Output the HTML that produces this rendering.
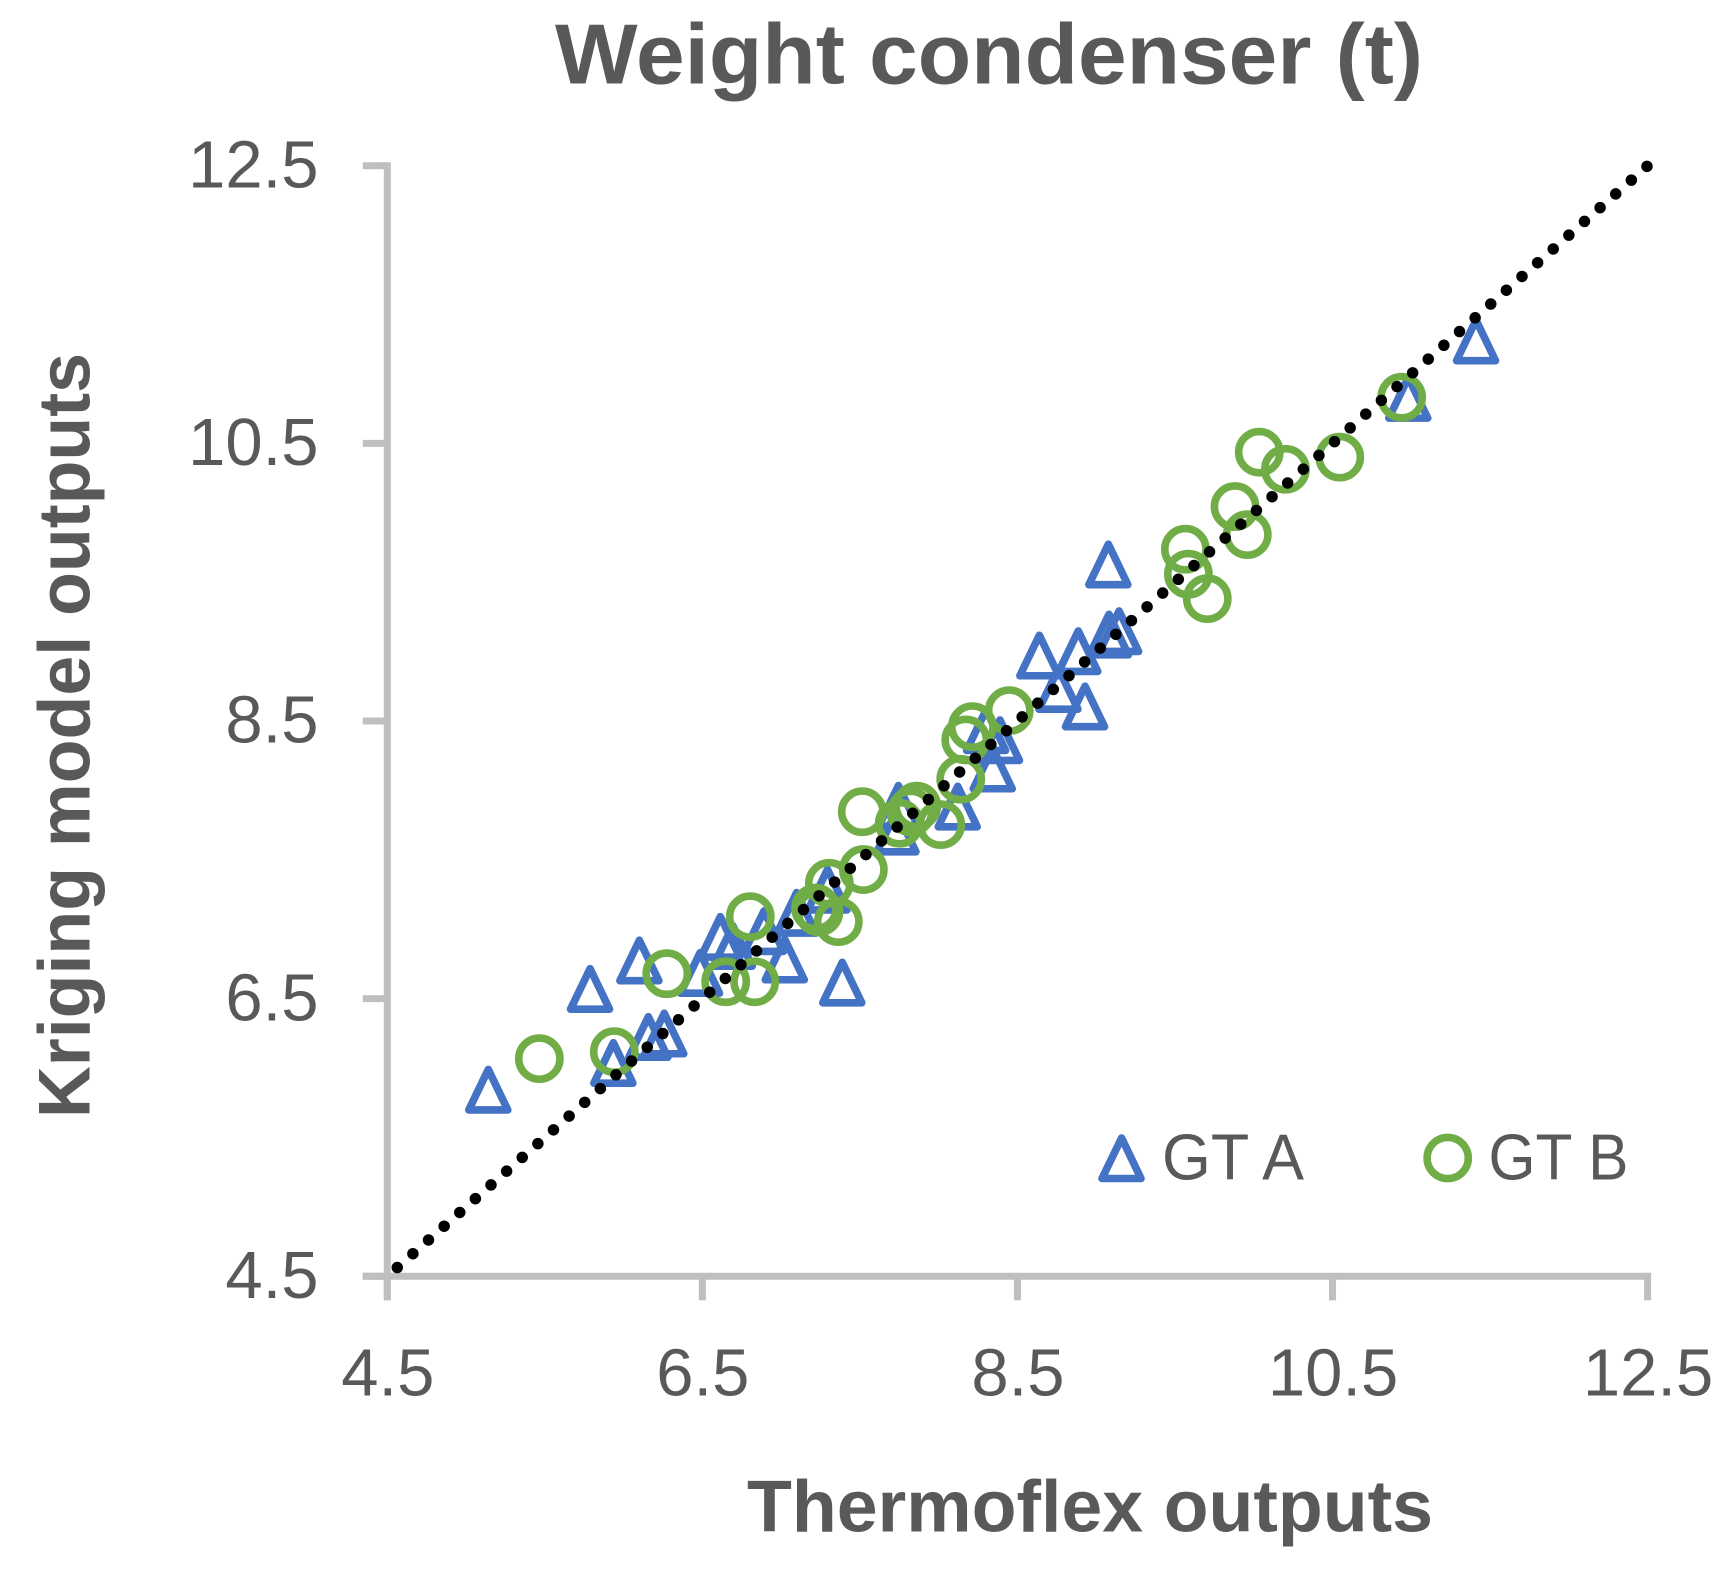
<!DOCTYPE html>
<html lang="en">
<head>
<meta charset="utf-8">
<title>Weight condenser (t)</title>
<style>
  html, body { margin: 0; padding: 0; background: #ffffff; }
  body { width: 1730px; height: 1574px; overflow: hidden; }
  svg { display: block; }
  text { font-family: "Liberation Sans", sans-serif; fill: #595959; }
  .tick-label { font-size: 67px; }
  .legend-label { font-size: 65px; }
  .axis-title { font-size: 73px; font-weight: 700; }
  .chart-title { font-size: 85px; font-weight: 700; }
</style>
</head>
<body>
<svg id="chart" width="1730" height="1574" viewBox="0 0 1730 1574" xmlns="http://www.w3.org/2000/svg">
  <rect x="0" y="0" width="1730" height="1574" fill="#ffffff"/>
  <g id="axes"></g>
  <g id="series-a"></g>
  <g id="series-b"></g>
  <g id="trend"></g>

  <text class="chart-title" x="555" y="83.5" textLength="868" lengthAdjust="spacingAndGlyphs">Weight condenser (t)</text>
  <text class="axis-title" x="747" y="1531.7" textLength="686" lengthAdjust="spacingAndGlyphs">Thermoflex outputs</text>
  <text class="axis-title" transform="translate(89.3 1118) rotate(-90)" x="0" y="0" textLength="765" lengthAdjust="spacingAndGlyphs">Kriging model outputs</text>

  <g>
    <path d="M1121.6 1138 L1141 1178.5 L1102 1178.5 Z" fill="none" stroke="#4472C4" stroke-width="7.6" stroke-linejoin="round"/>
    <text class="legend-label" x="1162" y="1179.3" textLength="142" lengthAdjust="spacingAndGlyphs">GT A</text>
    <circle cx="1447.7" cy="1158" r="20.6" fill="none" stroke="#70AD47" stroke-width="7.6"/>
    <text class="legend-label" x="1488.5" y="1179.3" textLength="140" lengthAdjust="spacingAndGlyphs">GT B</text>
  </g>
</svg>
<script>
const xTicks = [4.5, 6.5, 8.5, 10.5, 12.5];
const yTicks = [4.5, 6.5, 8.5, 10.5, 12.5];
const trendX = [4.5, 12.5];
const trendY = [4.5, 12.5];
const gtAX = [5.141, 5.787, 6.100, 5.935, 6.157, 6.258, 6.485, 6.614, 6.693, 6.891, 7.023, 7.388, 7.098, 7.294, 7.732, 7.744, 8.121, 8.343, 8.389, 8.301, 8.929, 8.760, 8.639, 8.886, 9.081, 9.145, 9.077, 10.981, 11.411];
const gtAY = [5.846, 6.572, 6.777, 6.039, 6.226, 6.251, 6.687, 6.947, 6.882, 6.988, 6.784, 6.618, 7.120, 7.287, 7.706, 7.891, 7.886, 8.160, 8.364, 8.436, 8.607, 8.733, 8.974, 9.005, 9.125, 9.149, 9.630, 10.830, 11.244];
const gtBX = [5.465, 5.941, 6.274, 6.648, 6.832, 6.804, 7.306, 7.218, 7.240, 7.522, 7.363, 7.515, 7.750, 7.861, 7.824, 8.013, 8.140, 8.172, 8.214, 8.448, 9.566, 9.585, 9.705, 9.881, 9.959, 10.035, 10.201, 10.546, 10.939];
const gtBY = [6.068, 6.118, 6.680, 6.622, 6.622, 7.091, 7.331, 7.153, 7.125, 7.430, 7.055, 7.847, 7.764, 7.887, 7.845, 7.754, 8.081, 8.364, 8.460, 8.575, 9.738, 9.558, 9.382, 10.045, 9.843, 10.437, 10.314, 10.401, 10.833];

const NS = 'http://www.w3.org/2000/svg';
const AXIS_MIN = 4.5;
const AXIS_MAX = 12.5;
const PLOT_LEFT = 387.3;
const PLOT_RIGHT = 1647.6;
const PLOT_TOP = 165.8;
const PLOT_BOTTOM = 1276.3;

function xScale(v) {
  return PLOT_LEFT + (v - AXIS_MIN) / (AXIS_MAX - AXIS_MIN) * (PLOT_RIGHT - PLOT_LEFT);
}
function yScale(v) {
  return PLOT_BOTTOM - (v - AXIS_MIN) / (AXIS_MAX - AXIS_MIN) * (PLOT_BOTTOM - PLOT_TOP);
}
function make(tag, attrs, parent) {
  const el = document.createElementNS(NS, tag);
  for (const key in attrs) {
    el.setAttribute(key, attrs[key]);
  }
  parent.appendChild(el);
  return el;
}

const axes = document.getElementById('axes');
const axisStyle = { stroke: '#BFBFBF', 'stroke-width': 7, fill: 'none' };

const yAxisLine = make('line', Object.assign({ x1: xScale(AXIS_MIN), x2: xScale(AXIS_MIN), y1: yScale(AXIS_MAX) - 3.5, y2: PLOT_BOTTOM + 24 }, axisStyle), axes);



const xAxisLine = make('line', Object.assign({ x1: PLOT_LEFT - 24.5, x2: xScale(AXIS_MAX) + 3.5, y1: yScale(AXIS_MIN), y2: yScale(AXIS_MIN) }, axisStyle), axes);



xTicks.forEach(function (t) {
  const mark = make('line', Object.assign({ x1: xScale(t), x2: xScale(t), y1: PLOT_BOTTOM, y2: PLOT_BOTTOM + 24 }, axisStyle), axes);
  
  
  const label = make('text', { x: xScale(t) + 0.5, y: 1395.7, 'text-anchor': 'middle', class: 'tick-label' }, axes);
  
  
  label.textContent = t.toFixed(1);
});

yTicks.forEach(function (t) {
  const mark = make('line', Object.assign({ x1: PLOT_LEFT - 24.5, x2: PLOT_LEFT, y1: yScale(t), y2: yScale(t) }, axisStyle), axes);
  
  
  const label = make('text', { x: 318.5, y: yScale(t) + 21.6, 'text-anchor': 'end', class: 'tick-label' }, axes);
  
  
  label.textContent = t.toFixed(1);
});

const seriesA = document.getElementById('series-a');
gtAX.forEach(function (v, i) {
  const cx = xScale(v);
  const cy = yScale(gtAY[i]);
  const d = 'M' + cx + ' ' + (cy - 20) + ' L' + (cx + 19.5) + ' ' + (cy + 20.5) + ' L' + (cx - 19.5) + ' ' + (cy + 20.5) + ' Z';
  const tri = make('path', { d: d, fill: 'none', stroke: '#4472C4', 'stroke-width': 7.6, 'stroke-linejoin': 'round' }, seriesA);
  
  
});

const seriesB = document.getElementById('series-b');
gtBX.forEach(function (v, i) {
  const dot = make('circle', { cx: xScale(v), cy: yScale(gtBY[i]), r: 20.6, fill: 'none', stroke: '#70AD47', 'stroke-width': 7.6 }, seriesB);
  
  
});

const trend = document.getElementById('trend');
const trendLine = make('line', {
  x1: xScale(trendX[0]), y1: yScale(trendY[0]),
  x2: xScale(trendX[1]), y2: yScale(trendY[1]),
  stroke: '#000000', 'stroke-width': 11.5, 'stroke-linecap': 'round',
  'stroke-dasharray': '0 20.82', 'stroke-dashoffset': -13.3
}, trend);


</script>
</body>
</html>
